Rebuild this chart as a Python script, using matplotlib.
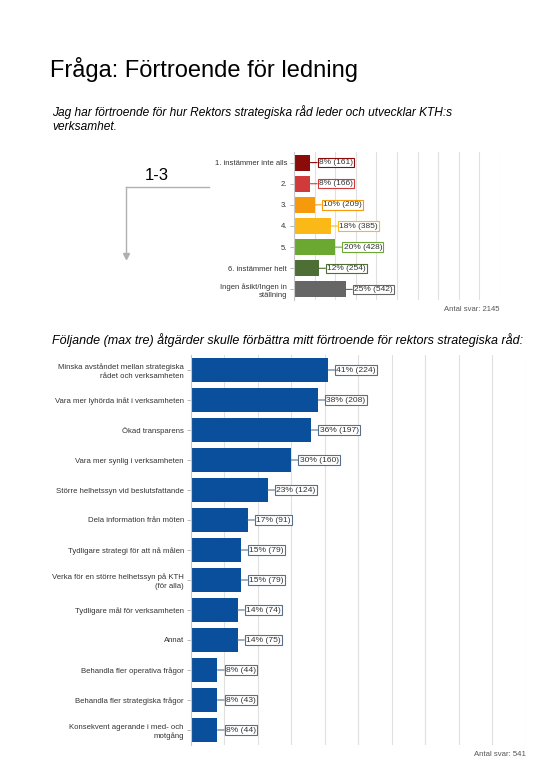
import matplotlib
matplotlib.use("Agg")
import matplotlib.pyplot as plt

plt.rcParams['font.family'] = ['Liberation Sans', 'DejaVu Sans']

# övre diagrammet: förtroende-skala
skala = ["1. instämmer inte alls", "2.", "3.", "4.", "5.", "6. instämmer helt",
         "Ingen åsikt/Ingen in\nställning"]
skala_pct = [8, 8, 10, 18, 20, 12, 25]
skala_antal = [161, 166, 209, 385, 428, 254, 542]
skala_farger = ["#8b0a0a", "#d03a3a", "#f59a0c", "#fbb917", "#6aa832", "#4d6e35", "#666666"]
skala_total = 2145

# nedre diagrammet: åtgärder
atgarder = ["Minska avståndet mellan strategiska\nrådet och verksamheten",
            "Vara mer lyhörda inåt i verksamheten",
            "Ökad transparens",
            "Vara mer synlig i verksamheten",
            "Större helhetssyn vid beslutsfattande",
            "Dela information från möten",
            "Tydligare strategi för att nå målen",
            "Verka för en större helhetssyn på KTH\n(för alla)",
            "Tydligare mål för verksamheten",
            "Annat",
            "Behandla fler operativa frågor",
            "Behandla fler strategiska frågor",
            "Konsekvent agerande i med- och\nmotgång"]
atgard_pct = [41, 38, 36, 30, 23, 17, 15, 15, 14, 14, 8, 8, 8]
atgard_antal = [224, 208, 197, 160, 124, 91, 79, 79, 74, 75, 44, 43, 44]
atgard_total = 541

textfarg = "#333333"
gridfarg = "#e0e0e0"
bla = "#0a4f9b"

fig = plt.figure(figsize=(5.4, 7.8), dpi=100)

fig.text(50 / 540, 1 - 70 / 780, "Fråga: Förtroende för ledning", fontsize=17,
         va="center", ha="left", color="black")
fig.text(52 / 540, 1 - 119 / 780,
         "Jag har förtroende för hur Rektors strategiska råd leder och utvecklar KTH:s\nverksamhet.",
         fontsize=8.6, style="italic", va="center", ha="left", linespacing=1.3)
fig.text(52 / 540, 1 - 340 / 780,
         "Följande (max tre) åtgärder skulle förbättra mitt förtroende för rektors strategiska råd:",
         fontsize=9, style="italic", va="center", ha="left")


def rita(ax, kategorier, pct, antal, farger, kantfarger, hojd, total, fs):
    y = range(len(kategorier))
    ax.barh(y, pct, height=hojd, color=farger, zorder=2)
    ax.set_xlim(0, 100)
    ax.set_ylim(len(kategorier) - 0.5, -0.5)
    ax.set_xticks(range(0, 101, 10))
    ax.xaxis.grid(True, color=gridfarg, lw=0.8, zorder=0)
    ax.tick_params(axis="x", length=0, labelbottom=False)
    ax.set_yticks(list(y))
    ax.set_yticklabels(kategorier, fontsize=fs, color=textfarg, linespacing=1.25)
    ax.tick_params(axis="y", length=3, width=0.6, color="#b0b0b0", pad=2)
    for s in ["top", "right", "bottom"]:
        ax.spines[s].set_visible(False)
    ax.spines["left"].set_color("#c8c8c8")
    ax.spines["left"].set_linewidth(0.8)
    for i in y:
        ax.annotate(f"{pct[i]}% ({antal[i]})", xy=(pct[i], i), xytext=(6, 0),
                    textcoords="offset points", ha="left", va="center",
                    fontsize=fs + 0.5, color=textfarg, zorder=3,
                    bbox=dict(boxstyle="square,pad=0.15", fc="white",
                              ec=kantfarger[i], lw=0.8),
                    arrowprops=dict(arrowstyle="-", color=kantfarger[i], lw=0.8,
                                    shrinkA=0, shrinkB=0))
    pos = ax.get_position()
    fig.text(pos.x1, pos.y0 - 10 / 780, f"Antal svar: {total}", fontsize=fs,
             color="#555555", ha="right", va="center")


ax1 = fig.add_axes([294 / 540, 1 - 300 / 780, 206 / 540, 148 / 780])
rita(ax1, skala, skala_pct, skala_antal, skala_farger, skala_farger, 0.76,
     skala_total, 5.5)

ax2 = fig.add_axes([190.7 / 540, 1 - 745 / 780, 335 / 540, 390 / 780])
rita(ax2, atgarder, atgard_pct, atgard_antal, [bla] * len(atgarder),
     ["#56708c"] * len(atgarder), 0.78, atgard_total, 5.6)

# "1-3" markering med pil
fig.text(157 / 540, 1 - 175 / 780, "1-3", fontsize=12, ha="center", va="center")
fig.add_artist(plt.Line2D([126 / 540, 209 / 540], [1 - 187 / 780, 1 - 187 / 780],
                          color="#b0b0b0", lw=1))
fig.add_artist(plt.Line2D([126 / 540, 126 / 540], [1 - 187 / 780, 1 - 254 / 780],
                          color="#b0b0b0", lw=1))
fig.add_artist(plt.Line2D([126 / 540], [1 - 256 / 780], marker="v", markersize=4,
                          color="#b0b0b0", lw=0))

fig.savefig("out.png", dpi=100)
